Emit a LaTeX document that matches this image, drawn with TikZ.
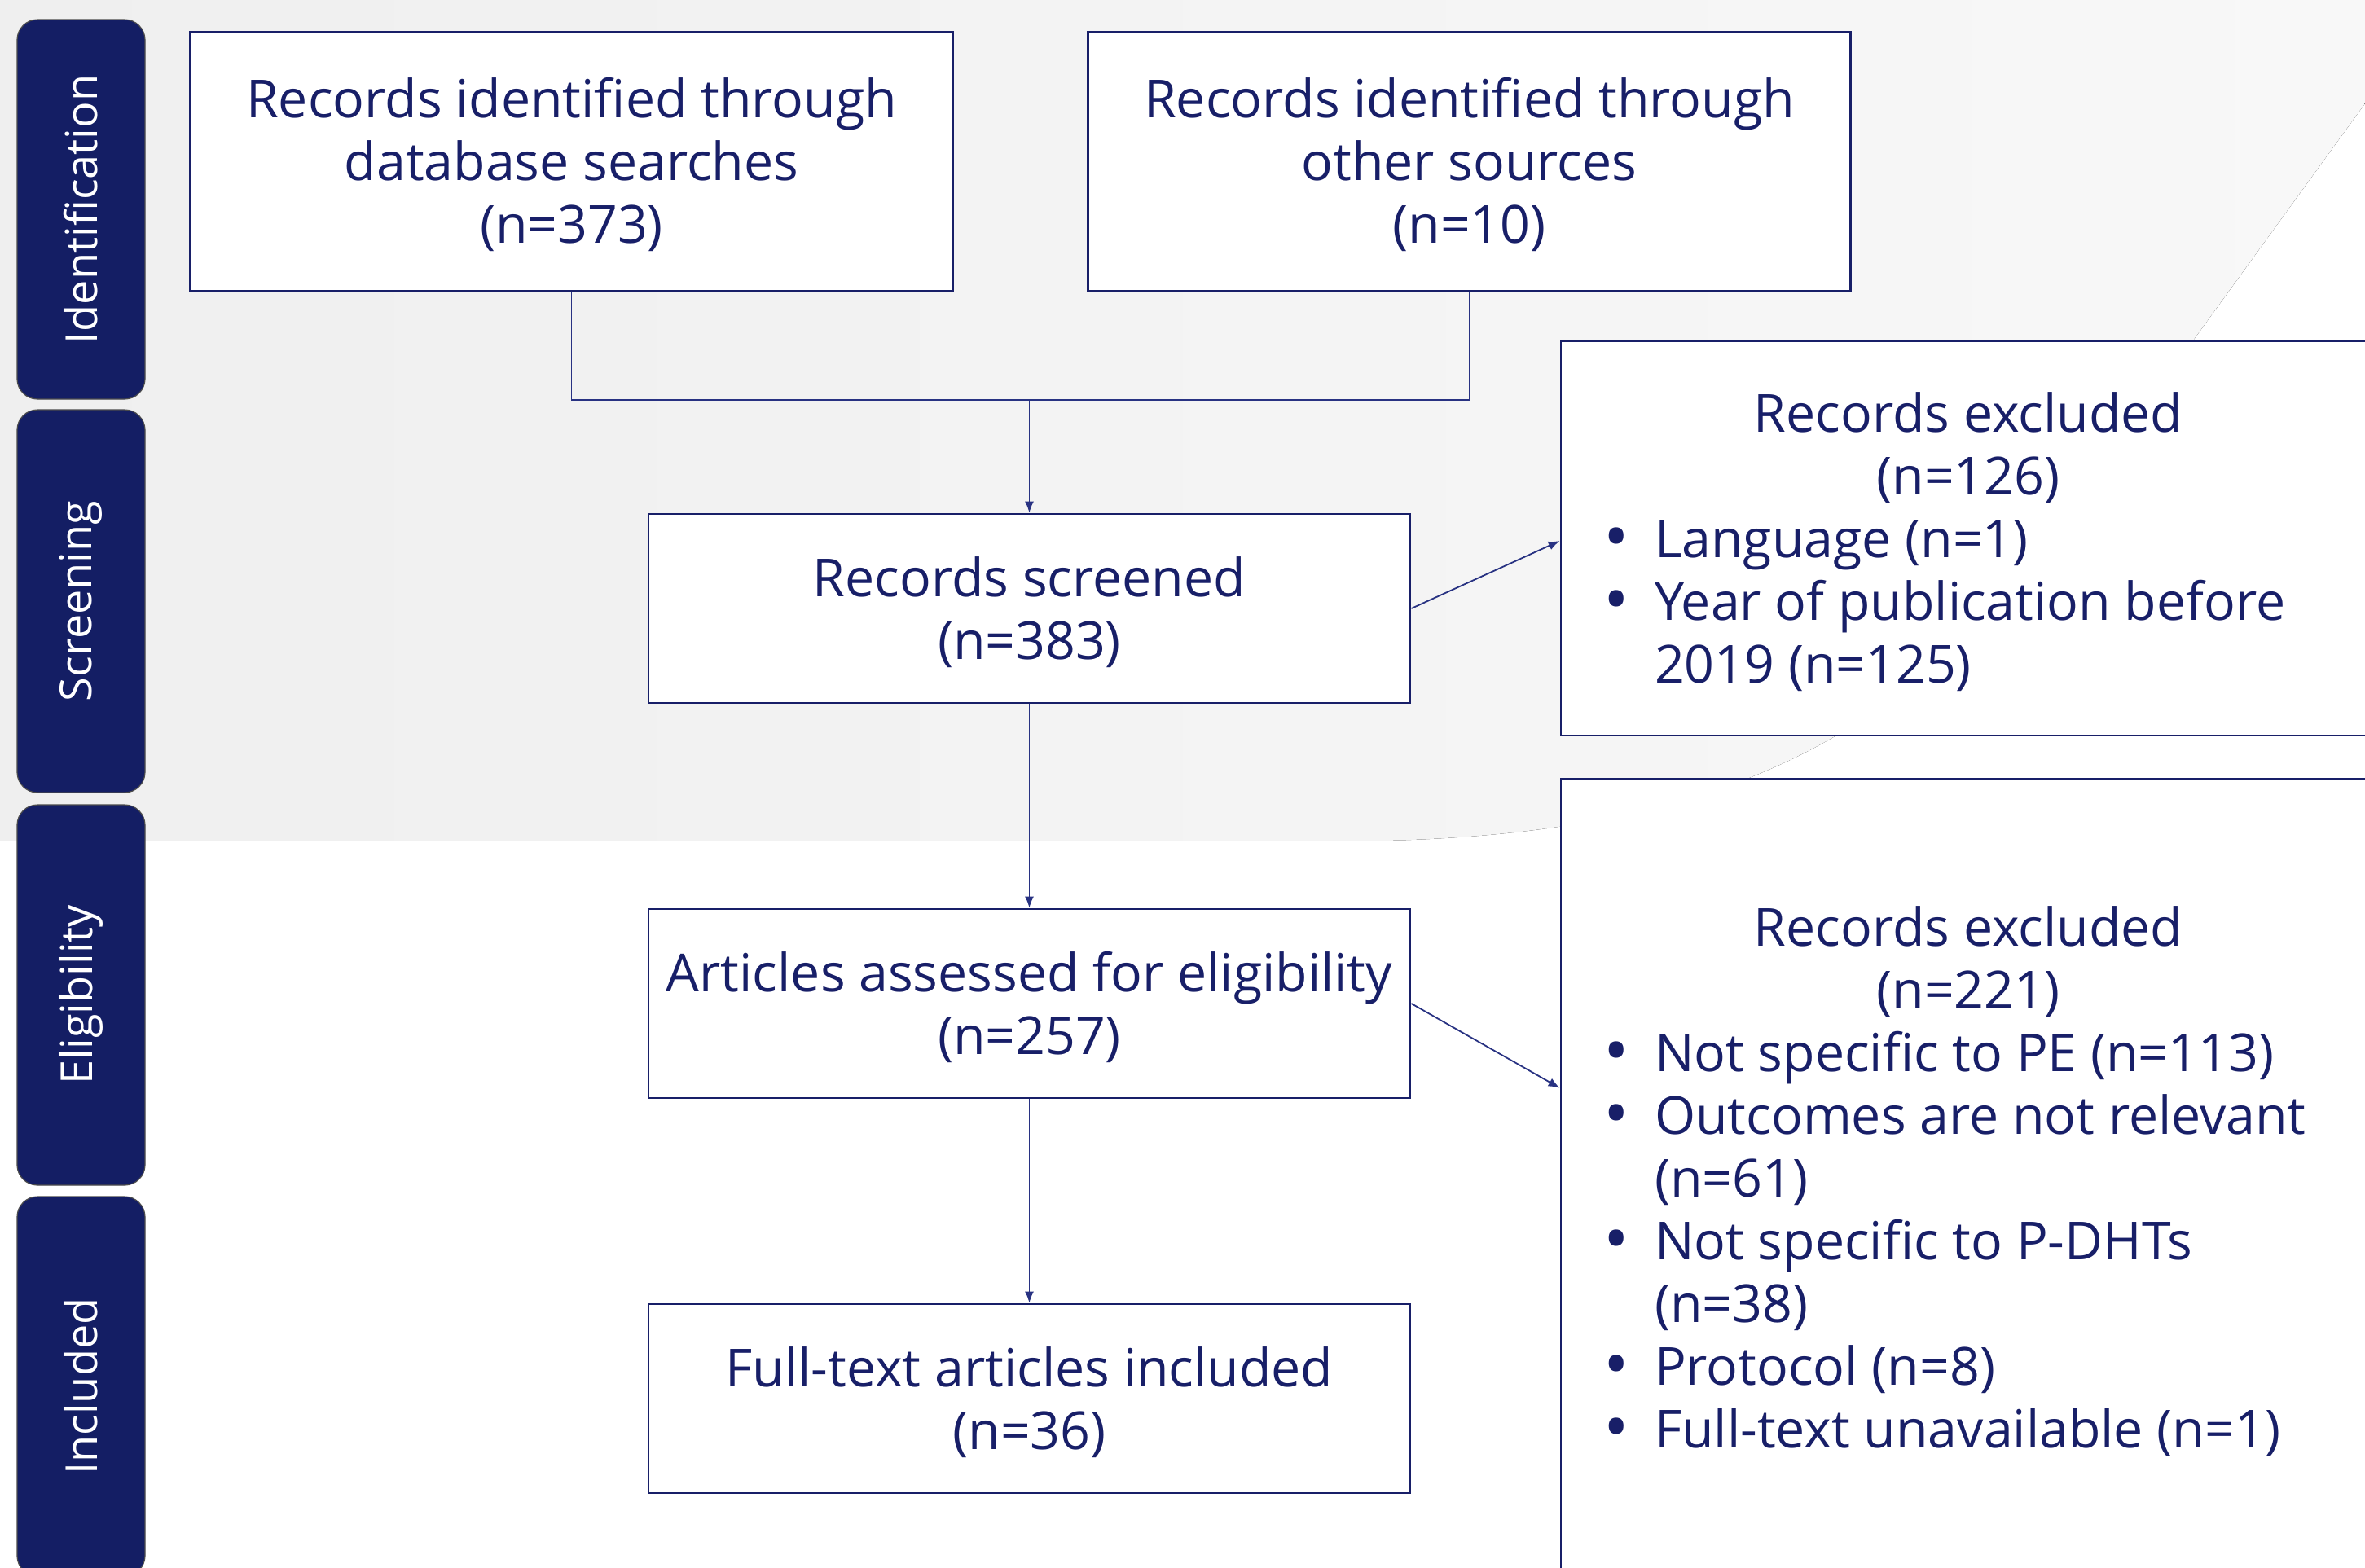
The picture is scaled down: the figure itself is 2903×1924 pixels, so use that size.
\documentclass[tikz,border=0pt]{standalone}
\usepackage{fontspec}
\setmainfont{Open Sans}
\usetikzlibrary{arrows.meta,calc}
\definecolor{navy}{RGB}{24,31,104}
\definecolor{tabnavy}{RGB}{20,30,100}
\definecolor{conncol}{RGB}{40,50,130}
\definecolor{bggray}{RGB}{239,239,239}
\definecolor{bglight}{RGB}{248,248,248}
\newcommand\exbullet{\raisebox{-0.12ex}{\scalebox{1.3}{\textbullet}}}
\newcommand\exitem[1]{\hspace*{26pt}\makebox[31.5pt][l]{\exbullet}#1}
\newcommand\boxtext[1]{\raisebox{-4.2pt}[\height][\depth]{\begin{tabular}{@{}c@{}}#1\end{tabular}}}
\newcommand\extext[1]{\raisebox{-2pt}[\height][\depth]{\begin{minipage}{500pt}#1\end{minipage}}}
\tikzset{
 flowbox/.style={draw=navy, line width=1.4pt, fill=white, minimum width=468pt, minimum height=159pt, inner sep=0pt, text=navy, font=\fontsize{32.2}{38.4}\selectfont},
 midbox/.style={flowbox, minimum width=467.5pt, minimum height=116pt},
 exbox/.style={draw=navy, line width=1.4pt, fill=white, minimum width=500pt, inner sep=0pt, text=navy, font=\fontsize{32.2}{38.5}\selectfont},
 tabbox/.style={draw=black!70, line width=0.6pt, fill=tabnavy, rounded corners=12.5pt, minimum height=78.5pt, inner sep=0pt, text=white, font=\fontsize{27}{30}\selectfont, rotate=90},
 conn/.style={draw=conncol, line width=0.9pt},
 arr/.style={conn, -{Latex[length=7pt,width=5.5pt]}},
}
\begin{document}
\begin{tikzpicture}[x=0.5pt,y=-0.5pt]
\useasboundingbox (0,0) rectangle (2903,1924);
\clip (0,0) rectangle (2903,1924);
\fill[white] (0,0) rectangle (2903,1924);
\fill[left color=bggray, right color=bglight] (0,0) -- (2903,0) -- (2903,127) -- (2560,600) .. controls (2380,850) and (2200,1020) .. (1700,1032) -- (0,1032) -- cycle;

% phase tabs
\node[tabbox, minimum width=233pt] (tid) at (99.5,257) {Identification};
\node[tabbox, minimum width=235pt] (tsc) at (99.5,738) {Screening};
\node[tabbox, minimum width=233.5pt] (tel) at (99.5,1221.5) {Eligibility};
\node[tabbox, minimum width=233pt] (tin) at (99.5,1702) {Included};

% boxes
\node[flowbox] (db) at (701.5,198) {\boxtext{Records identified through\\database searches\\(n=373)}};
\node[flowbox] (os) at (1803.5,198) {\boxtext{Records identified through\\other sources\\(n=10)}};
\node[midbox] (scr) at (1263.5,747) {\boxtext{Records screened\\(n=383)}};
\node[midbox] (art) at (1263.5,1232) {\boxtext{Articles assessed for eligibility\\(n=257)}};
\node[midbox] (inc) at (1263.5,1717) {\boxtext{Full-text articles included\\(n=36)}};

\node[exbox, minimum height=242pt] (ex1) at (2416,661) {\extext{\centering Records excluded\\(n=126)\par\raggedright
\exitem{Language (n=1)}\\
\exitem{Year of publication before}\\
\hspace*{57.5pt}2019 (n=125)}};

\node[exbox, minimum height=490pt] (ex2) at (2416,1446) {\extext{\centering Records excluded\\(n=221)\par\raggedright
\exitem{Not specific to PE (n=113)}\\
\exitem{Outcomes are not relevant}\\
\hspace*{57.5pt}(n=61)\\
\exitem{Not specific to P-DHTs}\\
\hspace*{57.5pt}(n=38)\\
\exitem{Protocol (n=8)}\\
\exitem{Full-text unavailable (n=1)}}};

% connectors
\coordinate (join) at (1263.5,491);
\draw[conn] (db.south) |- (join) -| (os.south);
\draw[arr] (join) -- (scr.north);
\draw[arr] (scr.south) -- (art.north);
\draw[arr] (art.south) -- (inc.north);
\draw[arr] (scr.east) -- ([yshift=-1.5pt]ex1.west);
\draw[arr] (art.east) -- ([yshift=-190.5pt]ex2.north west);
\end{tikzpicture}
\end{document}
